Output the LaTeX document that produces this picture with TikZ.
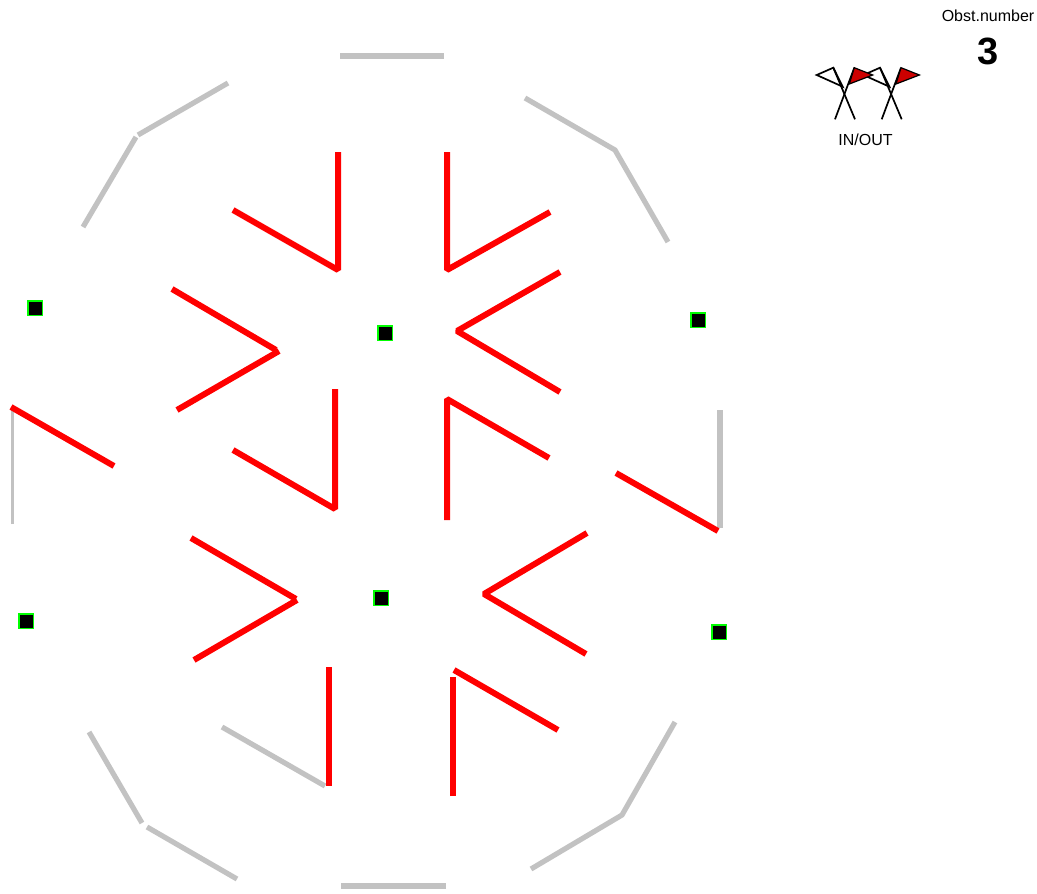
\documentclass[tikz,border=0pt]{standalone}
\usepackage{fontspec}
\setmainfont{Liberation Sans}
\usepackage{tikz}
\usetikzlibrary{positioning}

\begin{document}
\begin{tikzpicture}[
  x=1pt, y=-1pt,
  wall/.style={draw=black!24, line width=5.2pt, line join=bevel},
  thinwall/.style={draw=black!24, line width=3pt},
  obstacle/.style={draw=red, line width=6pt, line join=bevel},
  marker/.style={draw=green, fill=black, line width=1.2pt, minimum size=14.2pt, inner sep=0pt},
  pole/.style={draw=black, line width=1.7pt},
  flagwhite/.style={draw=black, fill=white, line width=1.7pt},
  flagred/.style={draw=black, fill=red!80!black, line width=1.2pt},
  caption/.style={inner sep=0pt, font=\fontsize{16}{16}\selectfont}
]
  \useasboundingbox (0,0) rectangle (1037,894);

  % Outer walls
  \draw[wall] (340,56) -- (444,56);
  \draw[wall] (525,98) -- (615,150) -- (668,242);
  \draw[wall] (720,410) -- (720,528);
  \draw[wall] (675,722) -- (622,815) -- (531,869);
  \draw[wall] (446,886) -- (341,886);
  \draw[wall] (237,879) -- (147,827);
  \draw[wall] (142,823) -- (89,732);
  \draw[wall] (222,727) -- (325,786);
  \draw[thinwall] (12,524) -- (12,407);
  \draw[wall] (83,227) -- (136,137);
  \draw[wall] (138,135) -- (228,83);

  % Obstacles
  \draw[obstacle] (338,152) -- (338,270) -- (233,210);
  \draw[obstacle] (447,152) -- (447,270) -- (550,212);
  \draw[obstacle] (560,272) -- (457,331) -- (560,392);
  \draw[obstacle] (172,289) -- (276,350);
  \draw[obstacle] (279,351) -- (177,410);
  \draw[obstacle] (335,389) -- (335,509) -- (233,450);
  \draw[obstacle] (447,520) -- (447,399) -- (549,458);
  \draw[obstacle] (11,407) -- (114,466);
  \draw[obstacle] (616,473) -- (718,531);
  \draw[obstacle] (191,538) -- (296,599);
  \draw[obstacle] (297,600) -- (194,660);
  \draw[obstacle] (587,533) -- (484,594) -- (586,654);
  \draw[obstacle] (329,667) -- (329,786);
  \draw[obstacle] (453,796) -- (453,677);
  \draw[obstacle] (454,670) -- (558,730);

  % Markers
  \node[marker] (m1) at (35,308) {};
  \node[marker] (m2) at (385,333) {};
  \node[marker] (m3) at (698,320) {};
  \node[marker] (m4) at (381,598) {};
  \node[marker] (m5) at (26,621) {};
  \node[marker] (m6) at (719,632) {};

  % Flags
  \draw[flagwhite] (833.3,67.7) -- (816.7,75) -- (842.7,86.7) -- cycle;
  \draw[flagwhite] (880,67.7) -- (863.4,75) -- (889.4,86.7) -- cycle;
  \draw[pole] (833.3,67.7) -- (855,119.3);
  \draw[pole] (854.3,67.7) -- (835,119.3);
  \draw[pole] (880,67.7) -- (901.7,119.3);
  \draw[pole] (901,67.7) -- (881.7,119.3);
  \draw[flagred] (854.3,67.7) -- (872.7,75) -- (849.3,84) -- cycle;
  \draw[flagred] (901,67.7) -- (919.4,75) -- (896,84) -- cycle;

  % Labels
  \node[caption] (inout) at (865.5,140) {IN/OUT};
  \node[caption] (obst) at (988,16) {Obst.number};
  \node[inner sep=0pt, font=\fontsize{38}{38}\selectfont\bfseries] (num) at (988.5,51) {3};
\end{tikzpicture}
\end{document}
